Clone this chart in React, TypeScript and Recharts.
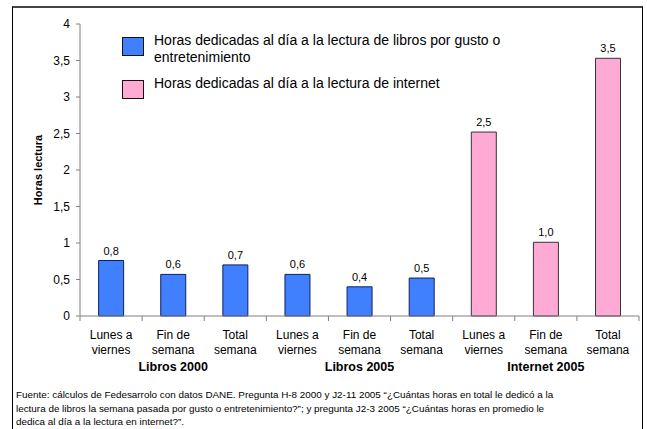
import React from 'react'
import { BarChart, Bar, XAxis, YAxis, Cell, LabelList, Legend } from 'recharts'

// categorias por grupo
const groups = ['Libros 2000', 'Libros 2005', 'Internet 2005']
const catLine1 = ['Lunes a', 'Fin de', 'Total']
const catLine2 = ['viernes', 'semana', 'semana']

// horas por dia
const libros2000 = [0.76, 0.57, 0.7]
const libros2005 = [0.57, 0.4, 0.52]
const internet2005 = [2.52, 1.01, 3.53]

const yTicks = [0, 0.5, 1, 1.5, 2, 2.5, 3, 3.5, 4]

const legendNames = [
  ['Horas dedicadas al día a la lectura de libros por gusto o', 'entretenimiento'],
  ['Horas dedicadas al día a la lectura de internet'],
]

const BLUE = '#4080ff'
const PINK = '#ffaad5'
const FONT = '"Liberation Sans", Arial, sans-serif'

const data = [libros2000, libros2005, internet2005].flatMap((vals, g) =>
  vals.map((v, i) => ({ key: `${g}-${i}`, g, i, v }))
)

const comma = (v: number, d: number) => (d === 0 ? String(v) : v.toFixed(d)).replace('.', ',')

const parseKey = (k: any) => {
  const [g, i] = String(k).split('-').map(Number)
  return { g: g || 0, i: i || 0 }
}

function CatTick(props: any) {
  const { x, y, payload } = props
  const half = payload?.offset || 31
  const { g, i } = parseKey(payload?.value)
  const last = g === groups.length - 1 && i === catLine1.length - 1
  return (
    <g>
      <line x1={x - half} x2={x - half} y1={y} y2={y + 5} stroke="#808080" />
      {last ? <line x1={x + half} x2={x + half} y1={y} y2={y + 5} stroke="#808080" /> : null}
      <text textAnchor="middle" fontSize={12} fill="#000" fontFamily={FONT}>
        <tspan x={x} y={y + 23}>{catLine1[i]}</tspan>
        <tspan x={x} y={y + 38}>{catLine2[i]}</tspan>
      </text>
    </g>
  )
}

function GroupTick(props: any) {
  const { x, y, payload } = props
  const { g, i } = parseKey(payload?.value)
  if (i !== 1) return <g />
  return (
    <text x={x} y={y + 15} textAnchor="middle" fontSize={12.5} fontWeight="bold" fill="#000" fontFamily={FONT}>
      {groups[g]}
    </text>
  )
}

function LegendBox() {
  const colors = [BLUE, PINK]
  const tops = [37, 80]
  return (
    <div style={{ position: 'relative', width: 520, height: 80, fontFamily: FONT, fontSize: 14, color: '#000' }}>
      {legendNames.map((lines, k) => (
        <div key={k}>
          <div style={{ position: 'absolute', left: 0, top: tops[k] - 37, width: 20, height: 17, background: colors[k], border: '1px solid #111' }} />
          {lines.map((t, j) => (
            <div key={j} style={{ position: 'absolute', left: 32, top: tops[k] - 37 - 5 + j * 16.5, whiteSpace: 'nowrap', lineHeight: '16px' }}>{t}</div>
          ))}
        </div>
      ))}
    </div>
  )
}

export default function App() {
  return (
    <div style={{ position: 'absolute', left: 0, top: 0, width: 647, height: 429, background: '#fff', overflow: 'hidden' }}>
      <div style={{ position: 'absolute', left: 12, top: 6, width: 629, height: 440, borderLeft: '1px solid #000', borderRight: '1px solid #000', borderTop: '2px solid #444' }} />
      <BarChart width={647} height={429} data={data} margin={{ top: 24, right: 8, bottom: 53, left: 0 }} barCategoryGap="30%">
        <YAxis
          domain={[0, 4]}
          ticks={yTicks}
          width={80}
          tickSize={4}
          tickMargin={6}
          axisLine={{ stroke: '#808080' }}
          tickLine={{ stroke: '#808080' }}
          tick={{ fontSize: 12, fill: '#000', fontFamily: FONT }}
          tickFormatter={(v: number) => comma(v, v % 1 === 0 ? 0 : 1)}
          label={{ value: 'Horas lectura', angle: -90, position: 'center', dx: -2, fontSize: 11, fontWeight: 'bold', fill: '#000', fontFamily: FONT }}
        />
        <XAxis
          dataKey="key"
          height={40}
          tickSize={0}
          tickMargin={0}
          interval={0}
          axisLine={{ stroke: '#808080' }}
          tickLine={false}
          tick={<CatTick />}
        />
        <XAxis
          xAxisId="grp"
          dataKey="key"
          height={20}
          tickSize={0}
          tickMargin={0}
          interval={0}
          axisLine={false}
          tickLine={false}
          tick={<GroupTick />}
        />
        <Legend layout="horizontal" align="center" verticalAlign="middle" wrapperStyle={{ left: 122, top: 37, width: 520 }} content={() => <LegendBox />} />
        <Bar dataKey="v" name="Horas" isAnimationActive={false} stroke="#1a1a40" strokeWidth={1}>
          {data.map((d) => (
            <Cell key={d.key} fill={d.g === 2 ? PINK : BLUE} stroke={d.g === 2 ? '#333' : '#10205a'} />
          ))}
          <LabelList dataKey="v" position="top" offset={6} fontSize={11} fill="#000" fontFamily={FONT} formatter={(v: any) => comma(Number(v), 1)} />
        </Bar>
      </BarChart>
      <div style={{ position: 'absolute', left: 16, top: 388, fontFamily: FONT, fontSize: 9.9, lineHeight: '13.5px', color: '#000', whiteSpace: 'nowrap' }}>
        <div>Fuente: cálculos de Fedesarrolo con datos DANE. Pregunta H-8 2000 y J2-11 2005 “¿Cuántas horas en total le dedicó a la</div>
        <div>lectura de libros la semana pasada por gusto o entretenimiento?”; y pregunta J2-3 2005 “¿Cuántas horas en promedio le</div>
        <div>dedica al día a la lectura en internet?”.</div>
      </div>
    </div>
  )
}
